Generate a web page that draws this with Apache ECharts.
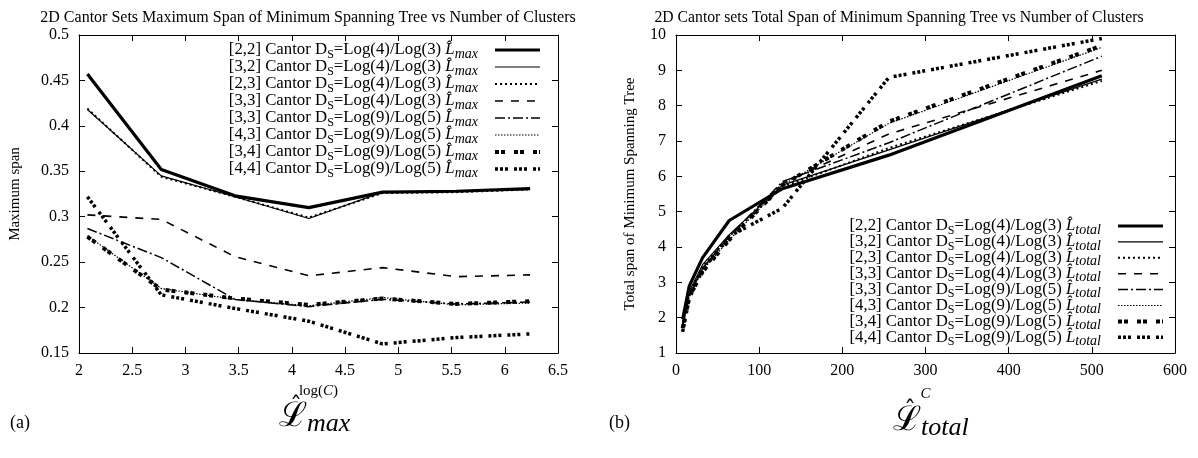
<!DOCTYPE html>
<html><head><meta charset="utf-8">
<script src="https://cdn.jsdelivr.net/npm/echarts@6/dist/echarts.min.js"></script>
<style>html,body{margin:0;padding:0;background:#fff}#c{width:1198px;height:458px}</style>
</head><body><div id="c"></div>
<script>
// ---------- data ----------
const cells = ['[2,2]', '[3,2]', '[2,3]', '[3,3]', '[3,3]', '[4,3]', '[3,4]', '[4,4]'];
const dims = ['Log(4)/Log(3)', 'Log(4)/Log(3)', 'Log(4)/Log(3)', 'Log(4)/Log(3)',
              'Log(9)/Log(5)', 'Log(9)/Log(5)', 'Log(9)/Log(5)', 'Log(9)/Log(5)'];
const logC = [2.079, 2.773, 3.466, 4.159, 4.852, 5.545, 6.238];
const C = [8, 16, 32, 64, 128, 256, 512];
const xTicksA = [2, 2.5, 3, 3.5, 4, 4.5, 5, 5.5, 6, 6.5];
const yTicksA = [0.15, 0.2, 0.25, 0.3, 0.35, 0.4, 0.45, 0.5];
const xTicksB = [0, 100, 200, 300, 400, 500, 600];
const yTicksB = [1, 2, 3, 4, 5, 6, 7, 8, 9, 10];

// maximum span (panel a)
const max22a = [0.457, 0.352, 0.323, 0.310, 0.327, 0.328, 0.331];
const max32a = [0.418, 0.345, 0.322, 0.298, 0.327, 0.328, 0.330];
const max23a = [0.419, 0.344, 0.322, 0.299, 0.326, 0.327, 0.330];
const max33a = [0.302, 0.297, 0.256, 0.235, 0.244, 0.234, 0.236];
const max33b = [0.287, 0.255, 0.209, 0.201, 0.209, 0.204, 0.206];
const max43b = [0.279, 0.221, 0.209, 0.202, 0.211, 0.203, 0.205];
const max34b = [0.278, 0.220, 0.210, 0.203, 0.210, 0.204, 0.207];
const max44b = [0.322, 0.214, 0.199, 0.185, 0.160, 0.167, 0.171];

// total span (panel b)
const tot22a = [1.95, 2.90, 3.70, 4.75, 5.65, 6.60, 8.85];
const tot32a = [1.85, 2.75, 3.50, 4.35, 5.75, 6.75, 8.75];
const tot23a = [1.80, 2.70, 3.45, 4.30, 5.70, 6.80, 8.70];
const tot33a = [1.75, 2.65, 3.40, 4.30, 5.80, 7.20, 9.00];
const tot33b = [1.75, 2.60, 3.40, 4.30, 5.85, 6.95, 9.40];
const tot43b = [1.70, 2.60, 3.35, 4.20, 5.75, 7.50, 9.65];
const tot34b = [1.70, 2.60, 3.30, 4.20, 5.75, 7.55, 9.70];
const tot44b = [1.60, 2.55, 3.35, 4.30, 5.10, 8.80, 9.90];

const maxSets = [max22a, max32a, max23a, max33a, max33b, max43b, max34b, max44b];
const totSets = [tot22a, tot32a, tot23a, tot33a, tot33b, tot43b, tot34b, tot44b];

// ---------- styles ----------
const FONT = 'Liberation Serif';
const lineStyles = [
  {width: 3.2, type: 'solid'},
  {width: 1.2, type: 'solid'},
  {width: 2, type: [2, 3]},
  {width: 1.6, type: [8, 8]},
  {width: 1.5, type: [10, 3, 2, 3]},
  {width: 1.2, type: [1.5, 1.5]},
  {width: 4, type: [4, 2, 4, 9]},
  {width: 3.5, type: [3, 2, 3, 2, 3, 6]}
];

const nameA = i => `${cells[i]} Cantor D_S=${dims[i]} L_max`;
const nameB = i => `${cells[i]} Cantor D_S=${dims[i]} L_total`;

function legendFmt(name) {
  const m = name.match(/^(.*) D_S=(.*) L_(max|total)$/);
  return `{t|${m[1]} D}{s|S}{t|=${m[2]} }{h|L\u0302}{m|${m[3]}}`;
}
const legendRich = {
  t: {fontFamily: FONT, fontSize: 16.8, lineHeight: 15, color: '#000'},
  s: {fontFamily: FONT, fontSize: 12, lineHeight: 8, padding: [9, 0, 0, 0], color: '#000'},
  h: {fontFamily: FONT, fontStyle: 'italic', fontSize: 16.8, lineHeight: 15, color: '#000'},
  m: {fontFamily: FONT, fontStyle: 'italic', fontSize: 14, lineHeight: 8, padding: [8, 12, 0, 0], color: '#000'}
};

function axisCommon(extra) {
  return Object.assign({
    type: 'value',
    axisLine: {show: true, onZero: false, lineStyle: {color: '#000', width: 1}},
    axisTick: {show: true, inside: true, length: 6, lineStyle: {color: '#000', width: 1}},
    splitLine: {show: false},
    axisLabel: {color: '#000', fontFamily: FONT, fontSize: 16, margin: 10}
  }, extra);
}
const nameStyle = {
  color: '#000', fontFamily: FONT, fontSize: 15,
  rich: {i: {fontFamily: FONT, fontStyle: 'italic', fontSize: 15, color: '#000'}}
};

const series = [];
for (let i = 0; i < 8; i++) {
  series.push({
    type: 'line', name: nameA(i), xAxisIndex: 0, yAxisIndex: 0,
    data: logC.map((x, k) => [x, maxSets[i][k]]),
    symbol: 'none', lineStyle: Object.assign({color: '#000'}, lineStyles[i]),
    itemStyle: {color: '#000'}, animation: false, z: 10 - i
  });
}
for (let i = 0; i < 8; i++) {
  series.push({
    type: 'line', name: nameB(i), xAxisIndex: 2, yAxisIndex: 2,
    data: C.map((x, k) => [x, totSets[i][k]]),
    symbol: 'none', lineStyle: Object.assign({color: '#000'}, lineStyles[i]),
    itemStyle: {color: '#000'}, animation: false, z: 10 - i
  });
}

function legendCfg(names, right, top, gap) {
  return {
    orient: 'vertical', align: 'right', right: right, top: top, padding: 0,
    itemWidth: 45, itemHeight: 12, itemGap: gap,
    data: names,
    formatter: legendFmt,
    textStyle: {fontFamily: FONT, fontSize: 16.8, color: '#000', rich: legendRich},
    lineStyle: {width: 'inherit'},
    itemStyle: {opacity: 0, borderWidth: 0},
    selectedMode: false
  };
}

const bigRich = {
  L: {fontFamily: 'DejaVu Serif', fontSize: 34, lineHeight: 34, fill: '#000'},
  m: {fontFamily: FONT, fontStyle: 'italic', fontSize: 26, lineHeight: 20, padding: [15, 0, 0, 0], fill: '#000'}
};

const chart = echarts.init(document.getElementById('c'), null, {renderer: 'canvas'});
chart.setOption({
  backgroundColor: '#fff',
  animation: false,
  title: [
    {text: '2D Cantor Sets Maximum Span of Minimum Spanning Tree vs Number of Clusters',
     left: 303, top: 5, textAlign: 'center',
     textStyle: {fontFamily: FONT, fontSize: 16, fontWeight: 'normal', color: '#000'}},
    {text: '2D Cantor sets Total Span of Minimum Spanning Tree vs Number of Clusters',
     left: 894, top: 5, textAlign: 'center',
     textStyle: {fontFamily: FONT, fontSize: 15.7, fontWeight: 'normal', color: '#000'}}
  ],
  grid: [
    {left: 79, right: 640, top: 35, bottom: 105, containLabel: false},
    {left: 676, right: 23, top: 35, bottom: 105, containLabel: false}
  ],
  xAxis: [
    axisCommon({gridIndex: 0, position: 'bottom', min: xTicksA[0], max: xTicksA[xTicksA.length - 1], interval: 0.5,
      name: 'log({i|C})', nameLocation: 'middle', nameGap: 31, nameTextStyle: nameStyle}),
    axisCommon({gridIndex: 0, position: 'top', min: xTicksA[0], max: xTicksA[xTicksA.length - 1], interval: 0.5,
      axisLabel: {show: false}}),
    axisCommon({gridIndex: 1, position: 'bottom', min: xTicksB[0], max: xTicksB[xTicksB.length - 1], interval: 100,
      name: '{i|C}', nameLocation: 'middle', nameGap: 34, nameTextStyle: nameStyle}),
    axisCommon({gridIndex: 1, position: 'top', min: xTicksB[0], max: xTicksB[xTicksB.length - 1], interval: 100,
      axisLabel: {show: false}})
  ],
  yAxis: [
    axisCommon({gridIndex: 0, position: 'left', min: yTicksA[0], max: yTicksA[yTicksA.length - 1], interval: 0.05,
      name: 'Maximum span', nameLocation: 'middle', nameGap: 56, nameTextStyle: nameStyle}),
    axisCommon({gridIndex: 0, position: 'right', min: yTicksA[0], max: yTicksA[yTicksA.length - 1], interval: 0.05,
      axisLabel: {show: false}}),
    axisCommon({gridIndex: 1, position: 'left', min: yTicksB[0], max: yTicksB[yTicksB.length - 1], interval: 1,
      name: 'Total span of Minimum Spanning Tree', nameLocation: 'middle', nameGap: 38, nameTextStyle: nameStyle}),
    axisCommon({gridIndex: 1, position: 'right', min: yTicksB[0], max: yTicksB[yTicksB.length - 1], interval: 1,
      axisLabel: {show: false}})
  ],
  legend: [
    legendCfg(cells.map((c, i) => nameA(i)), 656, 39, -5.0),
    legendCfg(cells.map((c, i) => nameB(i)), 33, 215, -6.1)
  ],
  graphic: [
    {type: 'text', left: 10, top: 414, style: {text: '(a)', font: '18px "Liberation Serif"', fill: '#000'}},
    {type: 'text', left: 609, top: 414, style: {text: '(b)', font: '18px "Liberation Serif"', fill: '#000'}},
    {type: 'text', x: 279, y: 400, style: {text: '{L|\u2112}{m|max}', rich: bigRich}},
    {type: 'text', x: 290, y: 396, style: {text: '\u02C6', font: '24px "DejaVu Serif"', fill: '#000'}},
    {type: 'text', x: 893, y: 404, style: {text: '{L|\u2112}{m|total}', rich: bigRich}},
    {type: 'text', x: 904, y: 400, style: {text: '\u02C6', font: '24px "DejaVu Serif"', fill: '#000'}}
  ],
  series: series
});
</script>
</body></html>
